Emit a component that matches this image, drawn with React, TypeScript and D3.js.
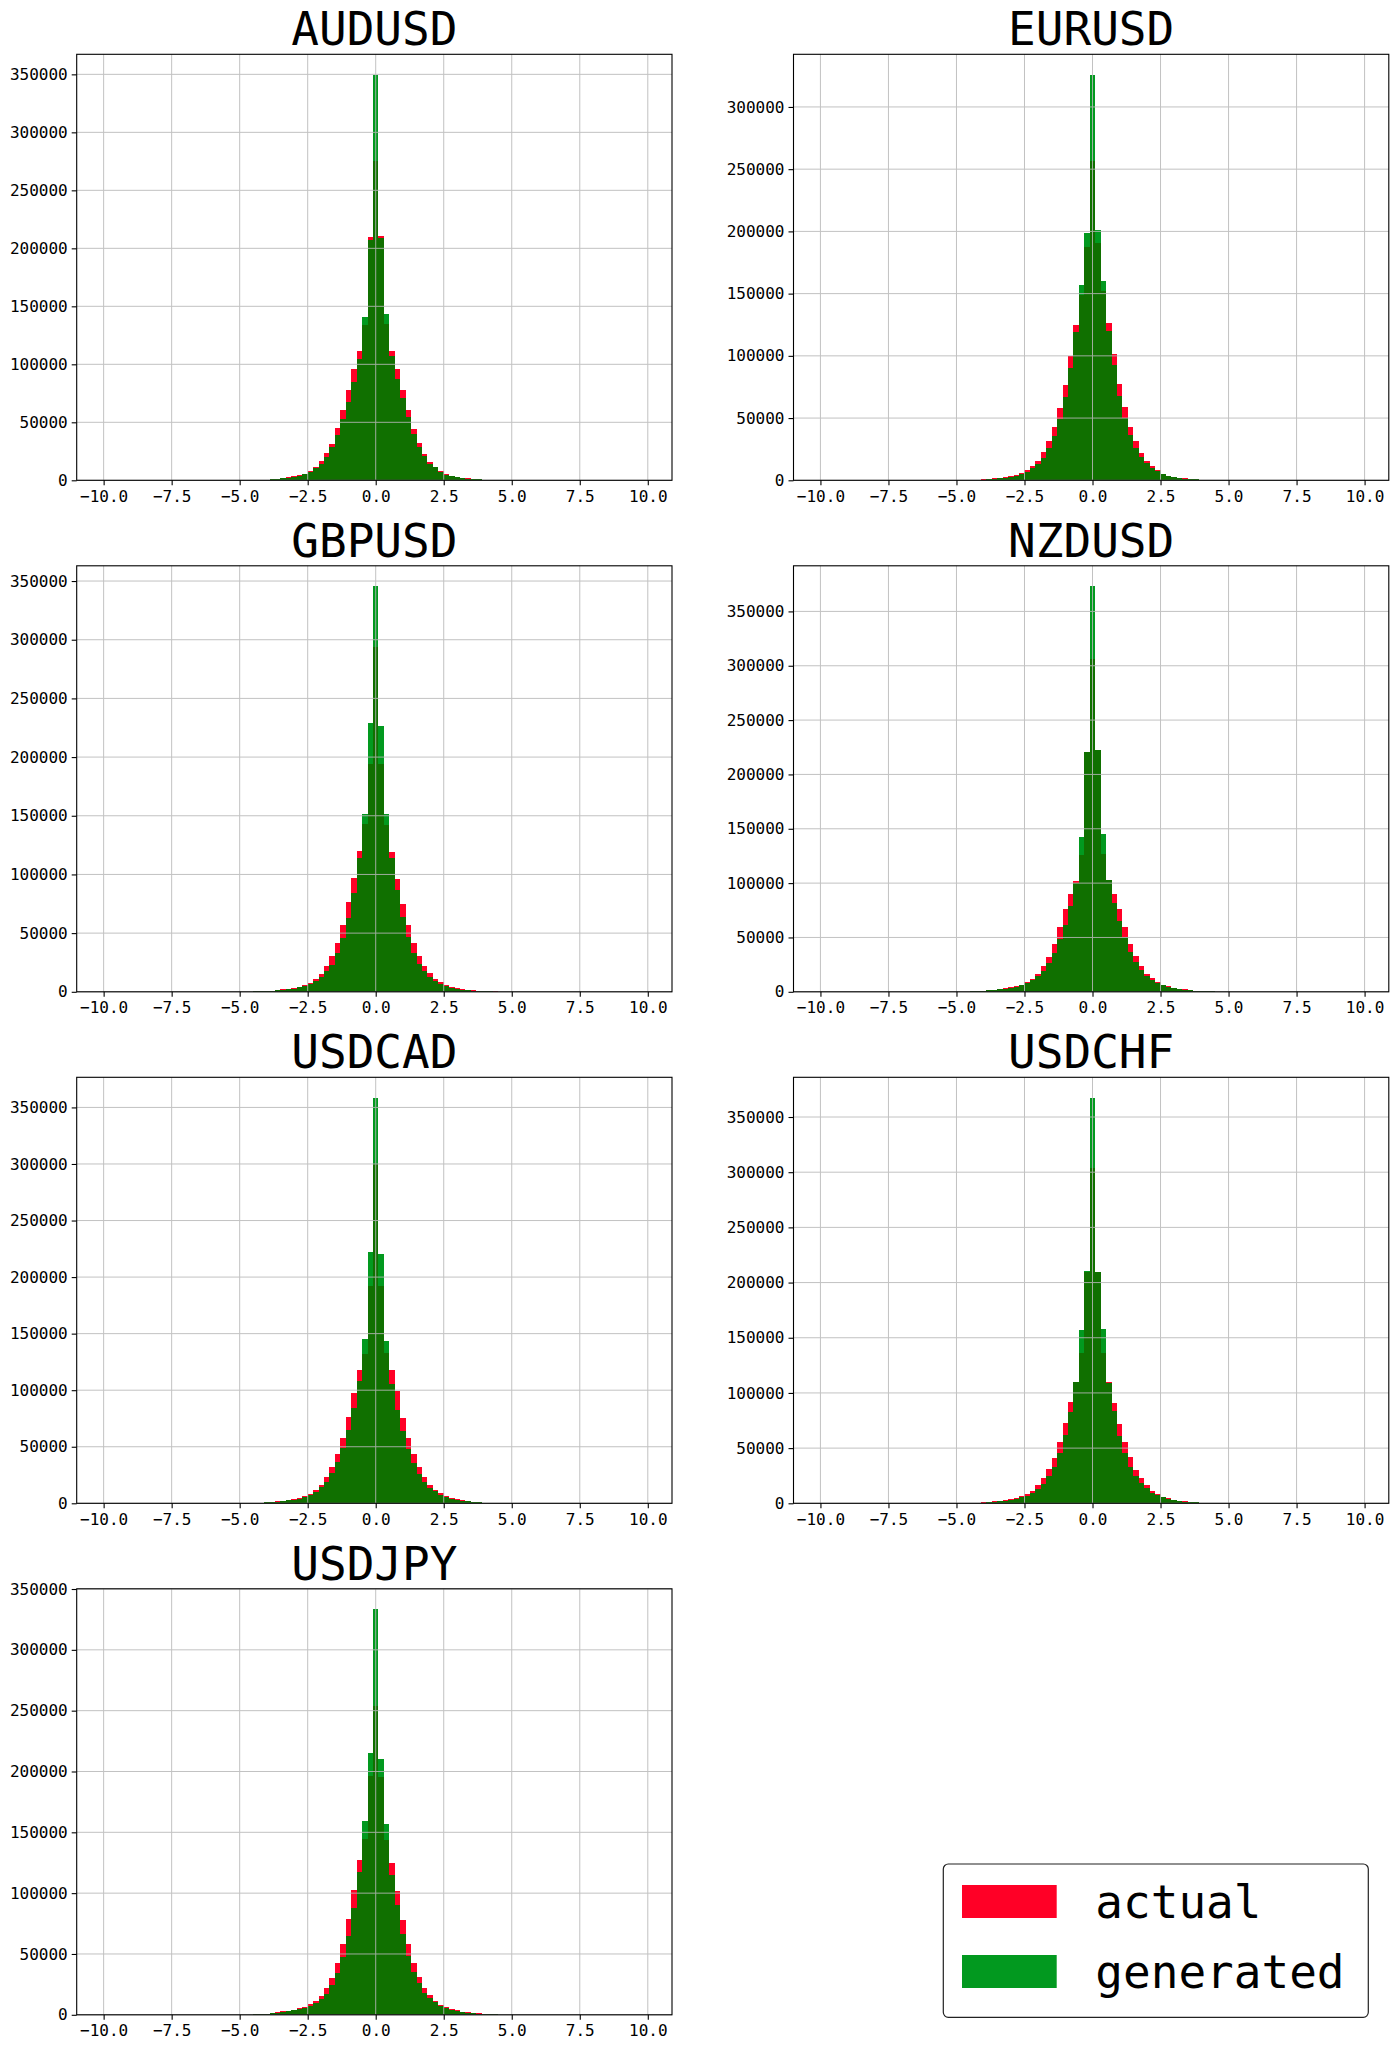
import React, { useEffect, useRef } from 'react';
import * as d3 from 'd3';

// histogram bins: offsets -22..22 around zero, each 0.2 wide
const binWidth = 0.2;
const binOffsets = d3.range(-22, 23);

const pairs = ['AUDUSD', 'EURUSD', 'GBPUSD', 'NZDUSD', 'USDCAD', 'USDCHF', 'USDJPY'];

const audusdActual = [300, 450, 650, 900, 1300, 1800, 2500, 3300, 4400, 5500, 7800, 11500, 16400, 23300, 31600, 45100, 60300, 77800, 95600, 111100, 133500, 209600, 275600, 210700, 134400, 111100, 96200, 77500, 60300, 44500, 32200, 22700, 16100, 11800, 7800, 5200, 4000, 3000, 2200, 1600, 1150, 800, 550, 380, 260];
const audusdGenerated = [280, 400, 580, 800, 1150, 1600, 2200, 2900, 3900, 5200, 7500, 10600, 14400, 20100, 28400, 38800, 52500, 67500, 84700, 104200, 140400, 207600, 349800, 209300, 143000, 107100, 87600, 70900, 54500, 40200, 28700, 21200, 14400, 11200, 7200, 4900, 3700, 2700, 2000, 1400, 1000, 700, 480, 330, 230];

const eurusdActual = [350, 500, 750, 1050, 1500, 2000, 2600, 3200, 4300, 5900, 8300, 11500, 15800, 22500, 31300, 42500, 57800, 76700, 99700, 125100, 149200, 187200, 256200, 190400, 151900, 126700, 101100, 77000, 58600, 43100, 31300, 21900, 15500, 11200, 8000, 5300, 3700, 2800, 2100, 1500, 1100, 800, 560, 400, 280];
const eurusdGenerated = [300, 430, 640, 900, 1250, 1700, 2200, 2700, 3700, 4800, 7000, 9600, 13100, 18200, 25900, 35600, 49200, 66600, 90400, 119300, 157200, 198900, 326000, 200800, 159900, 119800, 92300, 67900, 50000, 36100, 26200, 19000, 13900, 9900, 7200, 4800, 3500, 2500, 1800, 1300, 950, 680, 480, 340, 240];

const gbpusdActual = [350, 500, 720, 1000, 1450, 2000, 2500, 3100, 4300, 5700, 7900, 11100, 15300, 21800, 30300, 41700, 57000, 76600, 97000, 120000, 142900, 194000, 293800, 194000, 142100, 119100, 96400, 74900, 57000, 41400, 30600, 22400, 16200, 11300, 8200, 5700, 4100, 3000, 2200, 1600, 1150, 800, 560, 400, 280];
const gbpusdGenerated = [300, 420, 600, 850, 1200, 1650, 2100, 2600, 3700, 4800, 6500, 9100, 12200, 17300, 23000, 32900, 46200, 63200, 84500, 113700, 151400, 228900, 345700, 226300, 151400, 113700, 86500, 64100, 47100, 33200, 23300, 17900, 12800, 9400, 6500, 4800, 3500, 2500, 1800, 1300, 950, 680, 480, 340, 240];

const nzdusdActual = [450, 650, 950, 1350, 1900, 2600, 3300, 4000, 5200, 6700, 8900, 12200, 16800, 23300, 32200, 44100, 59700, 76200, 90300, 102000, 126200, 220200, 306200, 222300, 127100, 102900, 90300, 76200, 59700, 44100, 32500, 23300, 16800, 12600, 9000, 6500, 5000, 3800, 2900, 2200, 1600, 1150, 820, 580, 400];
const nzdusdGenerated = [400, 570, 830, 1200, 1650, 2300, 2900, 3500, 4600, 6100, 8000, 10400, 14100, 19300, 26300, 35800, 48400, 61200, 79000, 100500, 142400, 220200, 373300, 222300, 145100, 102900, 81800, 65200, 50800, 37000, 27300, 20200, 14400, 11000, 8100, 5900, 4500, 3400, 2600, 1900, 1400, 1000, 720, 510, 360];

const usdcadActual = [400, 580, 850, 1200, 1700, 2300, 2900, 3500, 4700, 6500, 8600, 11800, 15900, 23000, 31900, 43700, 57800, 76400, 97900, 118000, 132200, 192300, 300000, 192300, 133000, 118000, 99400, 75800, 58100, 43400, 32200, 23600, 16200, 12100, 8800, 6300, 4600, 3400, 2500, 1800, 1300, 950, 680, 480, 340];
const usdcadGenerated = [350, 500, 740, 1050, 1450, 2000, 2600, 3000, 4100, 5600, 7700, 10300, 14200, 18900, 26800, 36600, 49300, 64900, 84400, 107700, 145400, 222400, 358700, 220700, 143700, 105900, 82600, 64000, 47800, 35400, 26000, 19200, 13900, 10600, 7700, 5500, 4000, 2900, 2200, 1600, 1150, 820, 590, 420, 300];

const usdchfActual = [400, 580, 850, 1200, 1700, 2300, 2900, 3600, 4800, 6300, 8500, 11500, 16300, 22700, 31100, 41400, 55300, 72900, 91600, 110000, 136600, 209500, 303800, 209500, 136000, 110000, 91300, 72200, 55300, 41700, 30500, 23000, 16300, 11500, 8200, 6000, 4500, 3400, 2500, 1800, 1300, 950, 680, 480, 340];
const usdchfGenerated = [350, 500, 720, 1000, 1450, 2000, 2500, 3000, 4200, 5400, 7000, 9400, 12700, 17500, 24800, 33300, 45300, 61700, 83100, 109500, 157200, 210700, 367600, 209500, 157800, 109000, 84000, 61100, 46000, 33300, 24800, 18100, 13600, 9700, 7300, 5300, 4000, 2900, 2200, 1600, 1150, 820, 590, 420, 300];

const usdjpyActual = [500, 720, 1050, 1500, 2100, 2800, 3400, 4100, 5200, 6600, 8700, 11700, 15800, 22400, 30600, 42300, 58200, 78700, 102700, 127000, 144500, 196700, 254100, 195300, 143700, 125100, 101600, 77900, 58200, 42300, 31100, 21900, 16100, 11700, 8400, 6200, 4700, 3600, 2700, 2000, 1500, 1100, 800, 560, 400];
const usdjpyGenerated = [430, 620, 900, 1300, 1800, 2400, 3000, 3600, 4600, 5500, 7400, 9800, 12800, 17500, 24600, 34400, 47300, 65000, 88200, 117500, 159000, 215000, 333500, 210100, 157100, 115300, 90200, 66700, 48600, 35000, 26000, 18300, 13900, 10400, 7400, 5400, 4200, 3100, 2400, 1800, 1300, 950, 690, 490, 350];

const actualSeries = [audusdActual, eurusdActual, gbpusdActual, nzdusdActual, usdcadActual, usdchfActual, usdjpyActual];
const generatedSeries = [audusdGenerated, eurusdGenerated, gbpusdGenerated, nzdusdGenerated, usdcadGenerated, usdchfGenerated, usdjpyGenerated];

const xTicks = [-10, -7.5, -5, -2.5, 0, 2.5, 5, 7.5, 10];
const legendLabels = ['actual', 'generated'];

const RED = '#ff0026';
const GREEN = '#02991f';
const DARK = '#107000';
const FONT = '"DejaVu Sans Mono", monospace';

const App: React.FC = () => {
  const svgRef = useRef<SVGSVGElement>(null);

  useEffect(() => {
    if (!svgRef.current) return;
    const svg = d3.select(svgRef.current);
    svg.selectAll('*').remove();

    const colLeft = [76.7, 793.5];
    const rowTop = [54.3, 565.8, 1077.3, 1588.8];
    const width = 595.3;
    const height = 426;

    pairs.forEach((pair, i) => {
      const act = actualSeries[i];
      const gen = generatedSeries[i];
      const g = svg.append('g')
        .attr('transform', `translate(${colLeft[i % 2]},${rowTop[Math.floor(i / 2)]})`);

      const x = d3.scaleLinear().domain([-10.99, 10.89]).range([0, width]);
      const ymax = (d3.max([...act, ...gen]) || 0) * 1.05;
      const y = d3.scaleLinear().domain([0, ymax]).range([height, 0]);

      const bins = binOffsets.map((k, j) => ({
        x0: k * binWidth - binWidth / 2,
        x1: k * binWidth + binWidth / 2,
        a: act[j],
        g: gen[j]
      }));

      const bars = g.append('g').attr('shape-rendering', 'crispEdges');
      bars.selectAll('rect.act')
        .data(bins)
        .join('rect')
        .attr('class', 'act')
        .attr('x', d => x(d.x0))
        .attr('width', d => x(d.x1) - x(d.x0))
        .attr('y', d => y(d.a))
        .attr('height', d => height - y(d.a))
        .attr('fill', RED);
      bars.selectAll('rect.gen')
        .data(bins)
        .join('rect')
        .attr('class', 'gen')
        .attr('x', d => x(d.x0))
        .attr('width', d => x(d.x1) - x(d.x0))
        .attr('y', d => y(d.g))
        .attr('height', d => height - y(d.g))
        .attr('fill', GREEN);
      // overlap of the two translucent histograms
      bars.selectAll('rect.both')
        .data(bins)
        .join('rect')
        .attr('class', 'both')
        .attr('x', d => x(d.x0))
        .attr('width', d => x(d.x1) - x(d.x0))
        .attr('y', d => y(Math.min(d.a, d.g)))
        .attr('height', d => height - y(Math.min(d.a, d.g)))
        .attr('fill', DARK);

      // grid on top of the bars
      const yTicks = y.ticks(10);
      const grid = g.append('g').attr('stroke', '#b8b8b8').attr('stroke-width', 1).attr('opacity', 0.85);
      grid.selectAll('line.v')
        .data(xTicks)
        .join('line')
        .attr('class', 'v')
        .attr('x1', d => x(d)).attr('x2', d => x(d))
        .attr('y1', 0).attr('y2', height);
      grid.selectAll('line.h')
        .data(yTicks)
        .join('line')
        .attr('class', 'h')
        .attr('x1', 0).attr('x2', width)
        .attr('y1', d => y(d)).attr('y2', d => y(d));

      // Axes
      const xAxis = g.append('g')
        .attr('transform', `translate(0,${height})`)
        .call(d3.axisBottom(x).tickValues(xTicks).tickFormat(d3.format('.1f')).tickSize(5).tickPadding(5));
      const yAxis = g.append('g')
        .call(d3.axisLeft(y).tickValues(yTicks).tickFormat(d3.format('d')).tickSize(5).tickPadding(4));
      [xAxis, yAxis].forEach(ax => {
        ax.select('.domain').remove();
        ax.selectAll('line').attr('stroke', '#000').attr('stroke-width', 1.1);
        ax.selectAll('text')
          .attr('fill', '#000')
          .style('font-family', FONT)
          .style('font-size', '16px');
      });

      g.append('rect')
        .attr('width', width)
        .attr('height', height)
        .attr('fill', 'none')
        .attr('stroke', '#000')
        .attr('stroke-width', 1.1);

      g.append('text')
        .attr('x', width / 2)
        .attr('y', -9)
        .attr('text-anchor', 'middle')
        .style('font-family', FONT)
        .style('font-size', '46px')
        .text(pair);
    });

    // Legend
    const legend = svg.append('g').attr('transform', 'translate(943.3,1864)');
    legend.append('rect')
      .attr('width', 425)
      .attr('height', 153.3)
      .attr('rx', 5)
      .attr('fill', '#fff')
      .attr('stroke', '#222')
      .attr('stroke-width', 1.2);
    const legendColor = d3.scaleOrdinal<string>().domain(legendLabels).range([RED, GREEN]);
    legendLabels.forEach((label, i) => {
      const item = legend.append('g').attr('transform', `translate(0,${21 + i * 70})`);
      item.append('rect')
        .attr('x', 18.7)
        .attr('width', 94.7)
        .attr('height', 33)
        .attr('fill', legendColor(label));
      item.append('text')
        .attr('x', 152)
        .attr('y', 32.7)
        .style('font-family', FONT)
        .style('font-size', '46px')
        .text(label);
    });
  }, []);

  return (
    <svg
      ref={svgRef}
      width={1400}
      height={2048}
      style={{ position: 'absolute', left: 0, top: 0, background: '#fff' }}
    />
  );
};

export default App;
